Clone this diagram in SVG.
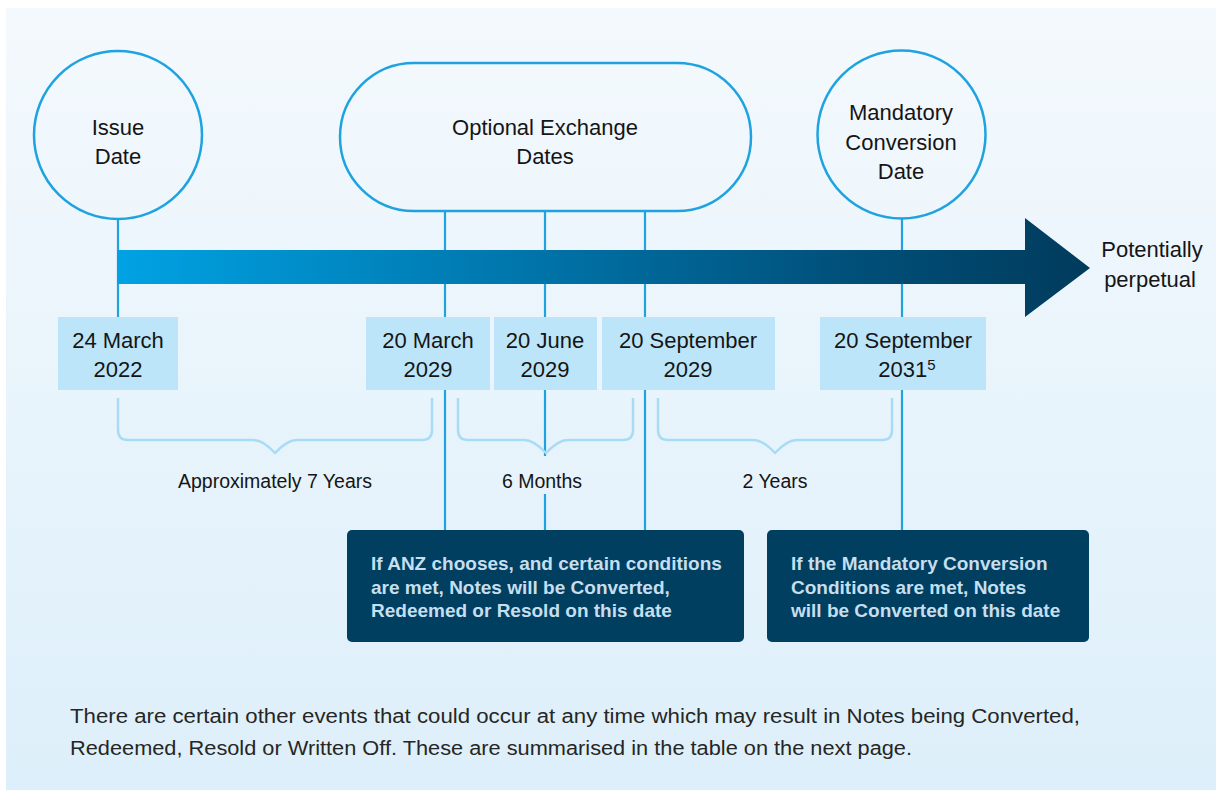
<svg xmlns="http://www.w3.org/2000/svg" width="1222" height="796" viewBox="0 0 1222 796">
  <defs>
    <linearGradient id="bg" x1="0" y1="0" x2="0" y2="1">
      <stop offset="0" stop-color="#f4f9fd"/>
      <stop offset="1" stop-color="#ddeffa"/>
    </linearGradient>
    <linearGradient id="arrowGrad" gradientUnits="userSpaceOnUse" x1="118" y1="0" x2="1090" y2="0">
      <stop offset="0" stop-color="#00a2e3"/>
      <stop offset="0.4" stop-color="#0077ad"/>
      <stop offset="0.75" stop-color="#00507a"/>
      <stop offset="1" stop-color="#003b5c"/>
    </linearGradient>
    <style>
      .ring { fill: none; stroke: #1ea3e0; stroke-width: 2.5; }
      .conn { stroke: #1ea3e0; stroke-width: 2.2; fill: none; }
      .brace { stroke: #a7dbf6; stroke-width: 2.5; fill: none; stroke-linejoin: round; }
      .datebox { fill: #bde5f9; }
      .note { fill: #003f60; }
      .t { font-family: "Liberation Sans", Arial, sans-serif; fill: #151515; text-anchor: middle; }
      .lbl { font-size: 22px; }
      .span { font-size: 19.5px; }
      .nt { font-family: "Liberation Sans", Arial, sans-serif; font-weight: bold; font-size: 19px; fill: #c6deee; }
      .foot { font-family: "Liberation Sans", Arial, sans-serif; font-size: 20px; fill: #262626; }
    </style>
  </defs>

  <rect x="0" y="0" width="1222" height="796" fill="#ffffff"/>
  <rect x="6" y="8" width="1210" height="782" fill="url(#bg)"/>

  <g id="connectors">
    <line class="conn" x1="118" y1="219" x2="118" y2="317"/>
    <line class="conn" x1="445" y1="211" x2="445" y2="317"/>
    <line class="conn" x1="545" y1="211" x2="545" y2="317"/>
    <line class="conn" x1="645" y1="211" x2="645" y2="317"/>
    <line class="conn" x1="902" y1="218" x2="902" y2="317"/>
    <line class="conn" x1="445" y1="390" x2="445" y2="530"/>
    <line class="conn" x1="545" y1="390" x2="545" y2="456"/>
    <line class="conn" x1="545" y1="494" x2="545" y2="530"/>
    <line class="conn" x1="645" y1="390" x2="645" y2="530"/>
    <line class="conn" x1="902" y1="390" x2="902" y2="530"/>
  </g>

  <g id="timeline-arrow">
    <polygon points="117,250 1025,250 1025,218 1090,268 1025,317 1025,284 117,284" fill="url(#arrowGrad)"/>
  </g>

  <g id="issue-date">
    <circle class="ring" cx="118" cy="135" r="84"/>
    <text class="t lbl" x="118" y="135">Issue</text>
    <text class="t lbl" x="118" y="164">Date</text>
  </g>

  <g id="optional-exchange-dates">
    <rect class="ring" x="340" y="63" width="411" height="148" rx="74" ry="74"/>
    <text class="t lbl" x="545" y="135">Optional Exchange</text>
    <text class="t lbl" x="545" y="164">Dates</text>
  </g>

  <g id="mandatory-conversion-date">
    <circle class="ring" cx="901.5" cy="134.5" r="84"/>
    <text class="t lbl" x="901" y="120">Mandatory</text>
    <text class="t lbl" x="901" y="150">Conversion</text>
    <text class="t lbl" x="901" y="179">Date</text>
  </g>

  <g id="potentially-perpetual">
    <text class="t lbl" x="1152" y="257">Potentially</text>
    <text class="t lbl" x="1150" y="287">perpetual</text>
  </g>

  <g id="date-24-march-2022">
    <rect class="datebox" x="58" y="317" width="120" height="73"/>
    <text class="t lbl" x="118" y="348">24 March</text>
    <text class="t lbl" x="118" y="377">2022</text>
  </g>
  <g id="date-20-march-2029">
    <rect class="datebox" x="366" y="317" width="124" height="73"/>
    <text class="t lbl" x="428" y="348">20 March</text>
    <text class="t lbl" x="428" y="377">2029</text>
  </g>
  <g id="date-20-june-2029">
    <rect class="datebox" x="494" y="317" width="103" height="73"/>
    <text class="t lbl" x="545" y="348">20 June</text>
    <text class="t lbl" x="545" y="377">2029</text>
  </g>
  <g id="date-20-september-2029">
    <rect class="datebox" x="602" y="317" width="173" height="73"/>
    <text class="t lbl" x="688" y="348">20 September</text>
    <text class="t lbl" x="688" y="377">2029</text>
  </g>
  <g id="date-20-september-2031">
    <rect class="datebox" x="820" y="317" width="166" height="73"/>
    <text class="t lbl" x="903" y="348">20 September</text>
    <text class="t lbl" x="907" y="377">2031<tspan font-size="15" dy="-7">5</tspan></text>
  </g>

  <g id="span-7-years">
    <path class="brace" d="M118,398 V430 Q118,440 128,440 H253 Q263,440 275,453 Q287,440 297,440 H422 Q432,440 432,430 V398"/>
    <text class="t span" x="275" y="488">Approximately 7 Years</text>
  </g>
  <g id="span-6-months">
    <path class="brace" d="M458,398 V430 Q458,440 468,440 H524 Q534,440 546,453 Q558,440 568,440 H623 Q633,440 633,430 V398"/>
    <text class="t span" x="542" y="488">6 Months</text>
  </g>
  <g id="span-2-years">
    <path class="brace" d="M658,398 V430 Q658,440 668,440 H753 Q763,440 775,453 Q787,440 797,440 H882 Q892,440 892,430 V398"/>
    <text class="t span" x="775" y="488">2 Years</text>
  </g>

  <g id="note-optional">
    <rect class="note" x="347" y="530" width="397" height="112" rx="5" ry="5"/>
    <text class="nt" x="371" y="570">If ANZ chooses, and certain conditions</text>
    <text class="nt" x="371" y="594">are met, Notes will be Converted,</text>
    <text class="nt" x="371" y="617">Redeemed or Resold on this date</text>
  </g>
  <g id="note-mandatory">
    <rect class="note" x="767" y="530" width="322" height="112" rx="5" ry="5"/>
    <text class="nt" x="791" y="570">If the Mandatory Conversion</text>
    <text class="nt" x="791" y="594">Conditions are met, Notes</text>
    <text class="nt" x="791" y="617">will be Converted on this date</text>
  </g>

  <g id="footer">
    <text class="foot" x="70" y="723" textLength="1010" lengthAdjust="spacingAndGlyphs">There are certain other events that could occur at any time which may result in Notes being Converted,</text>
    <text class="foot" x="70" y="755" textLength="842" lengthAdjust="spacingAndGlyphs">Redeemed, Resold or Written Off.  These are summarised in the table on the next page.</text>
  </g>
</svg>
